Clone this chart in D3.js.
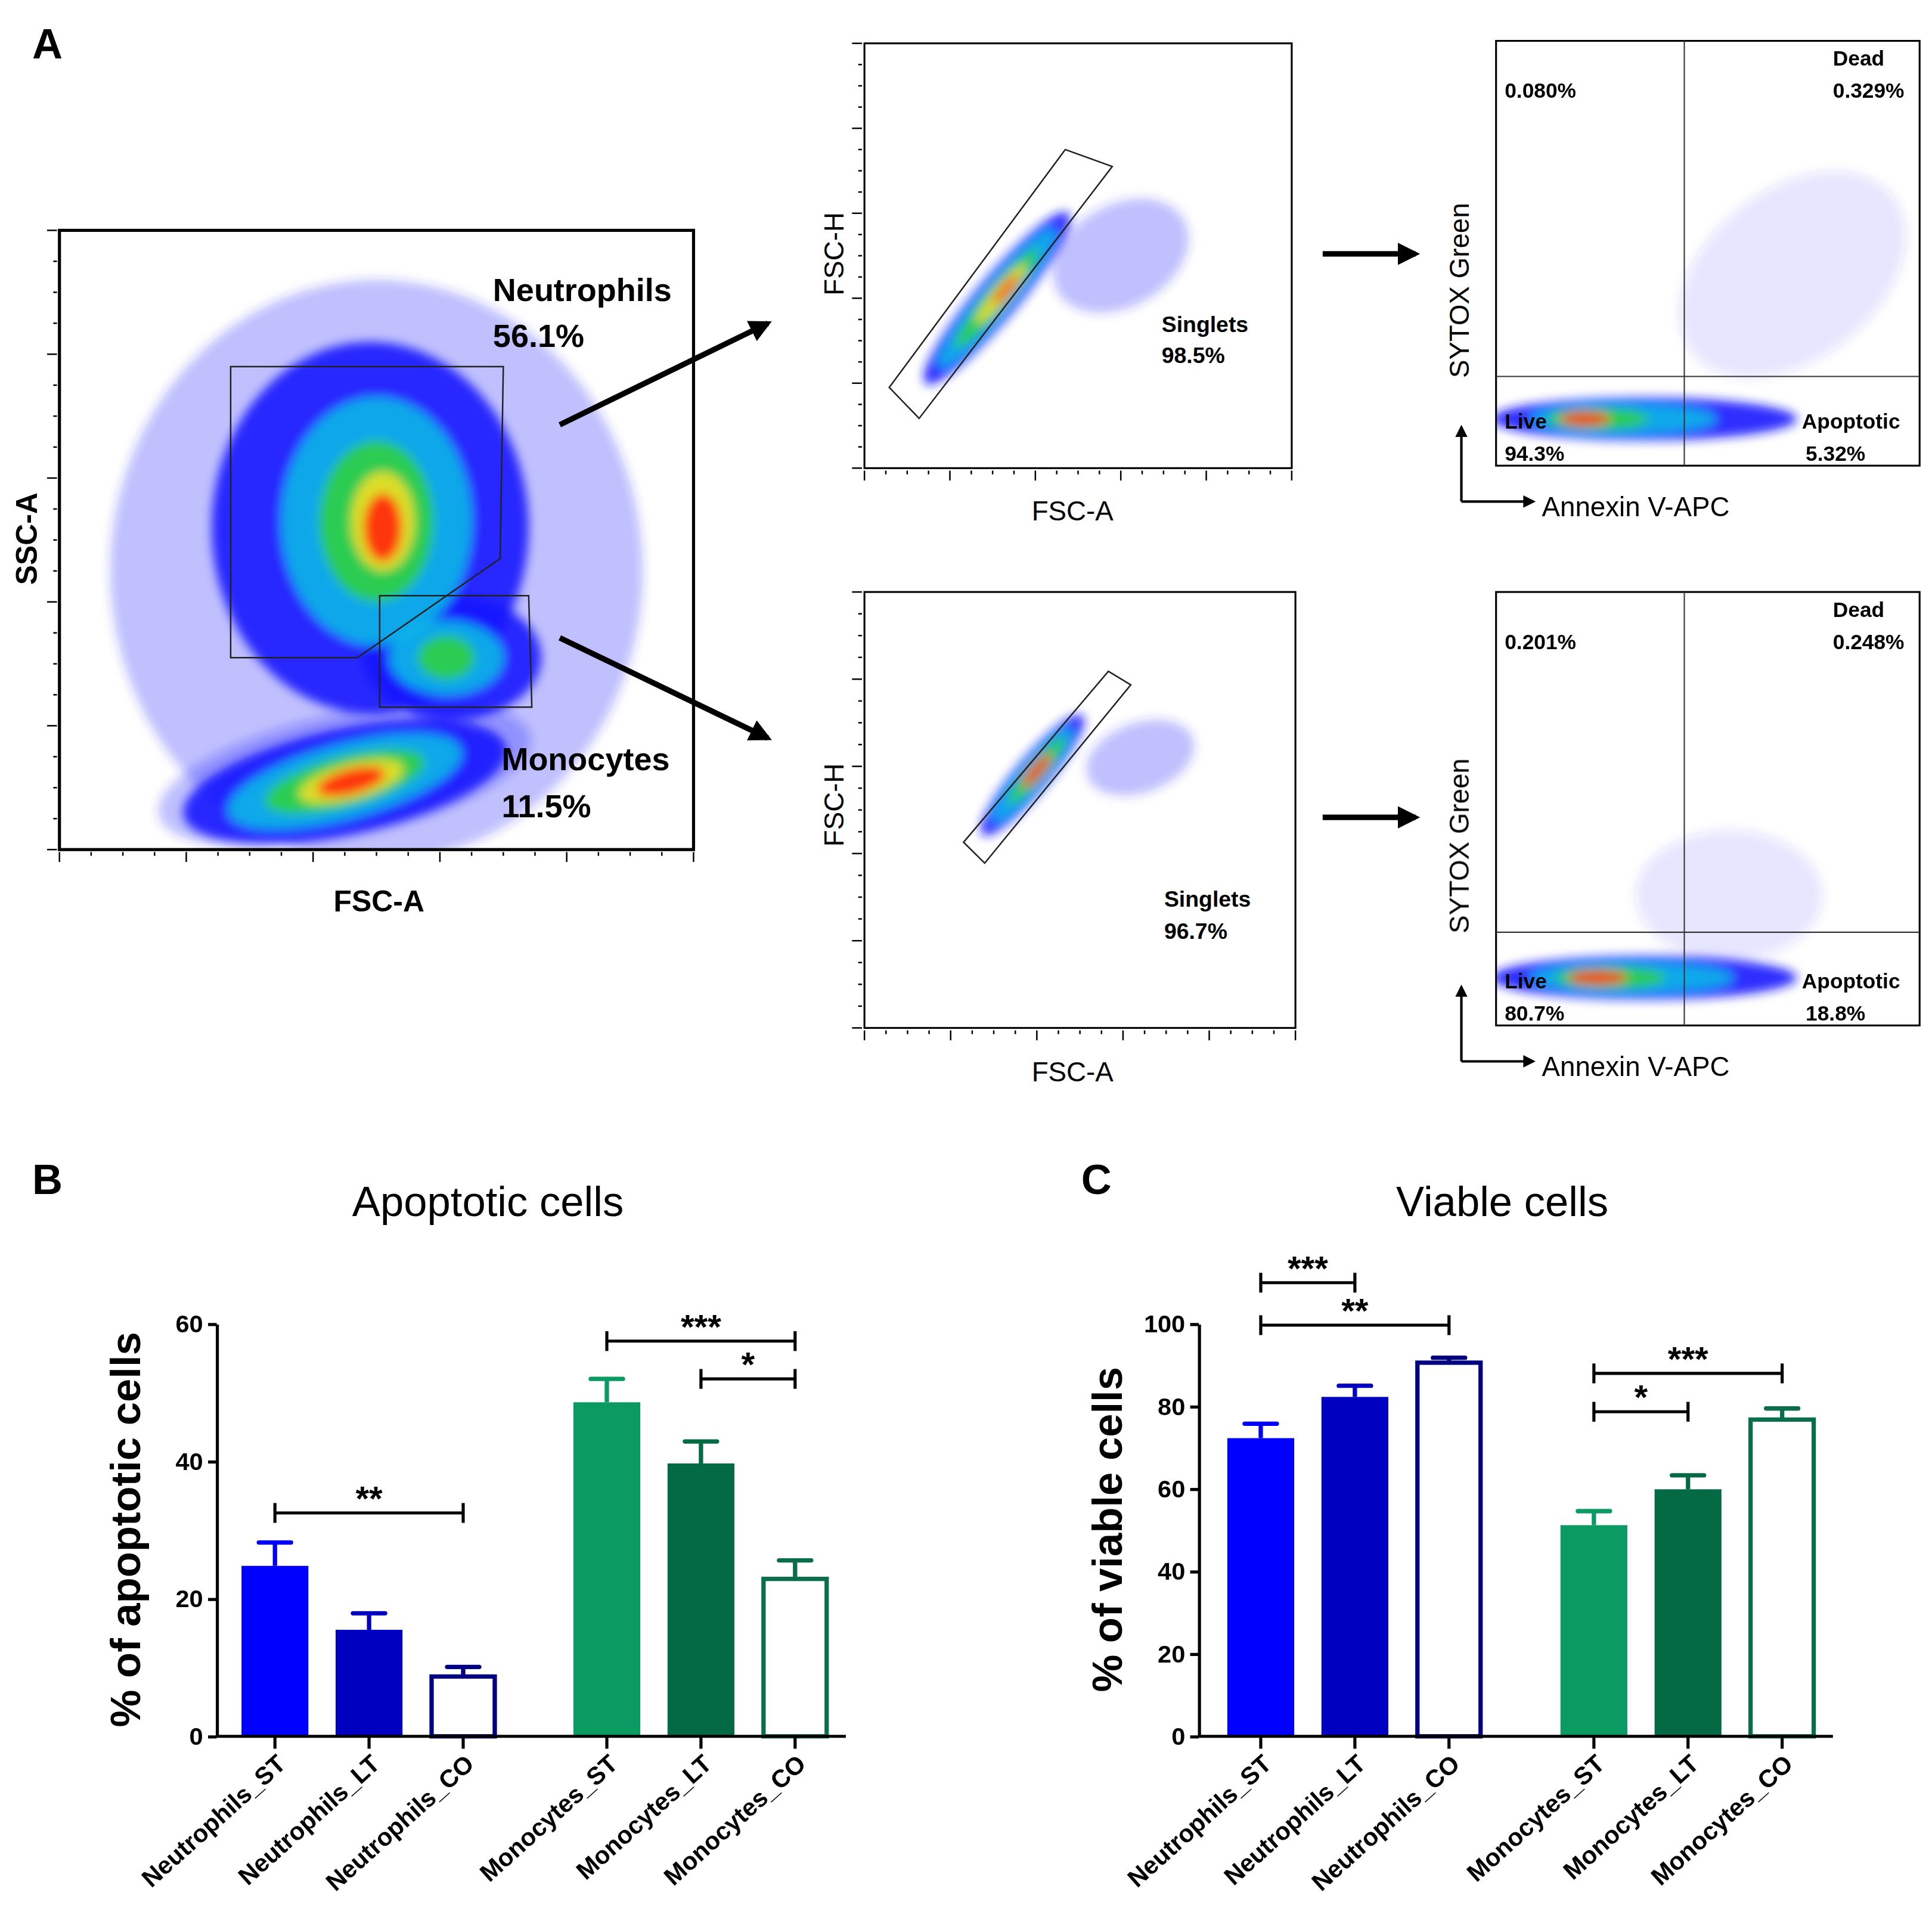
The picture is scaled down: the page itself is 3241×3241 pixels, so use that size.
<!DOCTYPE html>
<html>
<head>
<meta charset="utf-8">
<script src="https://cdn.jsdelivr.net/npm/d3@7"></script>
<style>
  body { margin: 0; background: #fff; }
  text { font-family: "Liberation Sans", Arial, sans-serif; }
</style>
</head>
<body>
<svg id="fig" width="3241" height="3241" viewBox="0 0 1560 1560"></svg>
<script>
// ---- bar chart data ----
var groups = ["Neutrophils_ST", "Neutrophils_LT", "Neutrophils_CO", "Monocytes_ST", "Monocytes_LT", "Monocytes_CO"];
var apoptoticMean = [24.8, 15.5, 8.7, 48.6, 39.7, 22.9];
var apoptoticTop = [28.2, 17.9, 10.1, 52.0, 42.9, 25.6];
var viableMean = [72.3, 82.3, 90.6, 51.2, 59.9, 76.8];
var viableTop = [75.8, 85.0, 91.8, 54.6, 63.3, 79.5];
var barFill = ["#0000ff", "#0000c0", "#ffffff", "#0a9a62", "#046a44", "#ffffff"];
var barStroke = ["#0000ff", "#0000c0", "#000080", "#0a9a62", "#046a44", "#0a6e4a"];
// [from index, to index, bracket value, label]
var apoptoticSig = [[0, 2, 32.5, "**"], [3, 5, 57.5, "***"], [4, 5, 52.0, "*"]];
var viableSig = [[0, 1, 110, "***"], [0, 2, 99.7, "**"], [3, 5, 88, "***"], [3, 4, 78.7, "*"]];

// ---- flow cytometry density clouds: [cx, cy, rx, ry, rotation deg, level] in plot fractions ----
var mainClouds = [
  [0.50, 0.45, 0.42, 0.47, 0, 6], [0.45, 0.12, 0.30, 0.10, -12, 6],
  [0.49, 0.52, 0.25, 0.30, 0, 0], [0.62, 0.31, 0.14, 0.10, 0, 0], [0.45, 0.11, 0.26, 0.085, -12, 0],
  [0.50, 0.53, 0.15, 0.20, 0, 1], [0.61, 0.31, 0.09, 0.06, 0, 1], [0.45, 0.11, 0.19, 0.06, -15, 1],
  [0.50, 0.53, 0.09, 0.13, 0, 2], [0.61, 0.31, 0.045, 0.035, 0, 2], [0.45, 0.11, 0.13, 0.04, -15, 2],
  [0.51, 0.53, 0.05, 0.08, 0, 3], [0.46, 0.11, 0.085, 0.028, -15, 3],
  [0.51, 0.52, 0.03, 0.055, 0, 4], [0.46, 0.11, 0.055, 0.02, -15, 4]
];
var singletTopClouds = [
  [0.60, 0.50, 0.17, 0.12, -30, 6], [0.31, 0.40, 0.26, 0.05, -50, 0],
  [0.31, 0.40, 0.21, 0.035, -50, 1], [0.31, 0.40, 0.15, 0.025, -50, 2],
  [0.32, 0.41, 0.09, 0.017, -50, 3], [0.33, 0.42, 0.045, 0.01, -50, 4]
];
var singletBottomClouds = [
  [0.64, 0.62, 0.13, 0.08, -20, 6], [0.39, 0.58, 0.18, 0.04, -50, 0],
  [0.39, 0.58, 0.14, 0.028, -50, 1], [0.40, 0.59, 0.10, 0.02, -50, 2],
  [0.40, 0.59, 0.05, 0.012, -50, 4]
];
var quadTopClouds = [
  [0.70, 0.45, 0.30, 0.20, -38, 5],
  [0.35, 0.11, 0.36, 0.05, 0, 0], [0.30, 0.11, 0.22, 0.035, 0, 1],
  [0.24, 0.11, 0.12, 0.025, 0, 2], [0.21, 0.11, 0.06, 0.015, 0, 4]
];
var quadBottomClouds = [
  [0.55, 0.30, 0.22, 0.15, 0, 5],
  [0.35, 0.11, 0.36, 0.05, 0, 0], [0.32, 0.11, 0.24, 0.035, 0, 1],
  [0.27, 0.11, 0.13, 0.025, 0, 2], [0.24, 0.11, 0.07, 0.015, 0, 4]
];
var levelColor = ["#1414ff", "#10b8e8", "#30d040", "#f0e020", "#ff2a10", "#3030ff", "#2a2aff"];
var levelOpacity = [0.9, 0.9, 0.9, 0.9, 0.95, 0.12, 0.3];

// gates, in plot fractions
var neutroGate = [[0.27, 0.78], [0.70, 0.78], [0.695, 0.47], [0.47, 0.31], [0.27, 0.31]];
var monoGate = [[0.505, 0.41], [0.74, 0.41], [0.745, 0.23], [0.505, 0.23]];
var singletTopGate = [[0.058, 0.19], [0.47, 0.75], [0.58, 0.71], [0.128, 0.117]];
var singletBottomGate = [[0.23, 0.426], [0.566, 0.818], [0.618, 0.787], [0.279, 0.378]];

var svg = d3.select("#fig");
var defs = svg.append("defs");
defs.append("filter").attr("id", "blur").attr("x", "-50%").attr("y", "-50%").attr("width", "200%").attr("height", "200%")
  .append("feGaussianBlur").attr("stdDeviation", 4);
defs.append("marker").attr("id", "arrow").attr("viewBox", "0 0 10 10").attr("refX", 8).attr("refY", 5)
  .attr("markerWidth", 4).attr("markerHeight", 4).attr("orient", "auto")
  .append("path").attr("d", "M0,0L10,5L0,10z").attr("fill", "#000");
defs.append("marker").attr("id", "arrowSmall").attr("viewBox", "0 0 10 10").attr("refX", 8).attr("refY", 5)
  .attr("markerWidth", 5).attr("markerHeight", 5).attr("orient", "auto")
  .append("path").attr("d", "M0,0L10,5L0,10z").attr("fill", "#000");

function panelLetter(x, y, t) {
  svg.append("text").attr("x", x).attr("y", y).attr("font-size", 34).attr("font-weight", "bold").text(t);
}

function flowPlot(box, clouds, opts) {
  var x = d3.scaleLinear().domain([0, 1]).range([box[0], box[1]]);
  var y = d3.scaleLinear().domain([0, 1]).range([box[3], box[2]]);
  var clipId = "clip" + Math.round(box[0]) + "_" + Math.round(box[2]);
  defs.append("clipPath").attr("id", clipId).append("rect")
    .attr("x", box[0]).attr("y", box[2]).attr("width", box[1] - box[0]).attr("height", box[3] - box[2]);
  var g = svg.append("g").attr("clip-path", "url(#" + clipId + ")").attr("filter", "url(#blur)");
  g.selectAll("ellipse").data(clouds).join("ellipse")
    .attr("cx", 0).attr("cy", 0)
    .attr("rx", d => x(d[2]) - x(0)).attr("ry", d => y(0) - y(d[3]))
    .attr("transform", d => "translate(" + x(d[0]) + "," + y(d[1]) + ") rotate(" + d[4] + ")")
    .attr("fill", d => levelColor[d[5]]).attr("opacity", d => levelOpacity[d[5]]);
  svg.append("rect").attr("x", box[0]).attr("y", box[2]).attr("width", box[1] - box[0]).attr("height", box[3] - box[2])
    .attr("fill", "none").attr("stroke", "#000").attr("stroke-width", opts.frame || 1.5);
  if (opts.ticks) {
    var major = opts.ticks;
    var tx = d3.range(0, major * 4 + 1).map(i => i / (major * 4));
    svg.append("g").selectAll("line").data(tx).join("line")
      .attr("x1", d => x(d)).attr("x2", d => x(d)).attr("y1", box[3] + 2)
      .attr("y2", (d, i) => box[3] + (i % 4 === 0 ? 10 : 5)).attr("stroke", "#000").attr("stroke-width", 1.2);
    svg.append("g").selectAll("line").data(tx).join("line")
      .attr("y1", d => y(d)).attr("y2", d => y(d)).attr("x1", box[0] - 2)
      .attr("x2", (d, i) => box[0] - (i % 4 === 0 ? 10 : 5)).attr("stroke", "#000").attr("stroke-width", 1.2);
  }
  var line = d3.line().x(d => x(d[0])).y(d => y(d[1]));
  (opts.gates || []).forEach(gt => {
    svg.append("path").attr("d", line(gt) + "Z").attr("fill", "none").attr("stroke", "#222").attr("stroke-width", 1.2);
  });
  if (opts.quad) {
    svg.append("line").attr("x1", x(opts.quad[0])).attr("x2", x(opts.quad[0])).attr("y1", box[2]).attr("y2", box[3])
      .attr("stroke", "#333").attr("stroke-width", 1);
    svg.append("line").attr("y1", y(opts.quad[1])).attr("y2", y(opts.quad[1])).attr("x1", box[0]).attr("x2", box[1])
      .attr("stroke", "#333").attr("stroke-width", 1);
  }
}

function label(x, y, t, size, weight, anchor) {
  return svg.append("text").attr("x", x).attr("y", y).attr("font-size", size)
    .attr("font-weight", weight || "normal").attr("text-anchor", anchor || "start").text(t);
}
function vlabel(x, y, t, size, weight) {
  return svg.append("text").attr("transform", "translate(" + x + "," + y + ") rotate(-90)")
    .attr("font-size", size).attr("font-weight", weight || "normal").attr("text-anchor", "middle").text(t);
}
function arrow(x1, y1, x2, y2, w, m) {
  svg.append("line").attr("x1", x1).attr("y1", y1).attr("x2", x2).attr("y2", y2)
    .attr("stroke", "#000").attr("stroke-width", w).attr("marker-end", "url(#" + m + ")");
}

// ---- Panel A ----
panelLetter(26, 47, "A");
flowPlot([48, 560, 186, 686], mainClouds, { ticks: 5, frame: 2.5, gates: [neutroGate, monoGate] });
label(398, 243, "Neutrophils", 26, "bold");
label(398, 280, "56.1%", 26, "bold");
label(405, 622, "Monocytes", 26, "bold");
label(405, 660, "11.5%", 26, "bold");
label(306, 736, "FSC-A", 24, "bold", "middle");
vlabel(30, 435, "SSC-A", 24, "bold");
arrow(452, 343, 620, 261, 4.5, "arrow");
arrow(452, 515, 620, 596, 4.5, "arrow");

flowPlot([698, 1043, 35, 378], singletTopClouds, { ticks: 5, gates: [singletTopGate] });
label(938, 268, "Singlets", 18, "bold");
label(938, 293, "98.5%", 18, "bold");
label(866, 420, "FSC-A", 22, "normal", "middle");
vlabel(681, 205, "FSC-H", 22);
flowPlot([698, 1046, 478, 830], singletBottomClouds, { ticks: 5, gates: [singletBottomGate] });
label(940, 732, "Singlets", 18, "bold");
label(940, 758, "96.7%", 18, "bold");
label(866, 873, "FSC-A", 22, "normal", "middle");
vlabel(681, 650, "FSC-H", 22);

arrow(1068, 205, 1143, 205, 4.5, "arrow");
arrow(1068, 660, 1143, 660, 4.5, "arrow");

function quadPanel(box, clouds, vals) {
  flowPlot(box, clouds, { quad: [(1360 - box[0]) / (box[1] - box[0]), vals.h] });
  label(box[0] + 7, box[2] + 46, vals.ul, 17, "bold");
  label(box[0] + 272, box[2] + 20, "Dead", 17, "bold");
  label(box[0] + 272, box[2] + 46, vals.ur, 17, "bold");
  label(box[0] + 7, box[3] - 30, "Live", 17, "bold");
  label(box[0] + 7, box[3] - 4, vals.ll, 17, "bold");
  label(box[0] + 247, box[3] - 30, "Apoptotic", 17, "bold");
  label(box[0] + 250, box[3] - 4, vals.lr, 17, "bold");
  vlabel(box[0] - 22, (box[2] + box[3]) / 2 + 30, "SYTOX Green", 22);
  var cy = box[3] + 29;
  arrow(1180, cy, 1180, cy - 60, 2, "arrowSmall");
  arrow(1180, cy, 1238, cy, 2, "arrowSmall");
  label(1245, cy + 12, "Annexin V-APC", 22);
}
quadPanel([1208, 1550, 33, 376], quadTopClouds, { h: 0.21, ul: "0.080%", ur: "0.329%", ll: "94.3%", lr: "5.32%" });
quadPanel([1208, 1550, 478, 828], quadBottomClouds, { h: 0.215, ul: "0.201%", ur: "0.248%", ll: "80.7%", lr: "18.8%" });

// ---- Panels B and C ----
function barChart(o) {
  var pos = i => o.centers[i];
  var y = d3.scaleLinear().domain([0, o.max]).range([1402, 1069]);
  var bw = 54;
  svg.append("g").selectAll("rect").data(o.mean).join("rect")
    .attr("x", (d, i) => pos(i) - bw / 2 + (barFill[i] === "#ffffff" ? 1.5 : 0))
    .attr("width", (d, i) => bw - (barFill[i] === "#ffffff" ? 3 : 0))
    .attr("y", d => y(d)).attr("height", d => y(0) - y(d))
    .attr("fill", (d, i) => barFill[i]).attr("stroke", (d, i) => barStroke[i])
    .attr("stroke-width", (d, i) => barFill[i] === "#ffffff" ? 3.5 : 0);
  var eg = svg.append("g");
  o.top.forEach((t, i) => {
    eg.append("line").attr("x1", pos(i)).attr("x2", pos(i)).attr("y1", y(o.mean[i])).attr("y2", y(t))
      .attr("stroke", barStroke[i]).attr("stroke-width", 3.5);
    eg.append("line").attr("x1", pos(i) - 13).attr("x2", pos(i) + 13).attr("y1", y(t)).attr("y2", y(t))
      .attr("stroke", barStroke[i]).attr("stroke-width", 3.5).attr("stroke-linecap", "round");
  });
  var yAxis = d3.axisLeft(y).tickValues(d3.range(0, o.max + 1, 20)).tickSize(7).tickSizeOuter(0);
  var ga = svg.append("g").attr("transform", "translate(" + o.x0 + ",0)").call(yAxis);
  ga.select(".domain").attr("stroke-width", 2.5);
  ga.selectAll(".tick line").attr("stroke-width", 2.5);
  ga.selectAll("text").attr("font-size", 20).attr("font-weight", "bold")
    .attr("font-family", "Liberation Sans, Arial, sans-serif").attr("dx", -1);
  svg.append("line").attr("x1", o.x0).attr("x2", o.x1).attr("y1", y(0)).attr("y2", y(0))
    .attr("stroke", "#000").attr("stroke-width", 2.5);
  groups.forEach((gname, i) => {
    svg.append("line").attr("x1", pos(i)).attr("x2", pos(i)).attr("y1", y(0)).attr("y2", y(0) + 10)
      .attr("stroke", "#000").attr("stroke-width", 2.5);
    svg.append("text").attr("transform", "translate(" + (pos(i) + 10) + "," + (y(0) + 24) + ") rotate(-42)")
      .attr("text-anchor", "end").attr("font-size", 20).attr("font-weight", "bold").text(gname);
  });
  o.sig.forEach(s => {
    var a = pos(s[0]), b = pos(s[1]), yy = y(s[2]);
    svg.append("line").attr("x1", a).attr("x2", b).attr("y1", yy).attr("y2", yy).attr("stroke", "#000").attr("stroke-width", 2.5);
    [a, b].forEach(p => svg.append("line").attr("x1", p).attr("x2", p).attr("y1", yy - 8).attr("y2", yy + 8)
      .attr("stroke", "#000").attr("stroke-width", 2.5));
    label((a + b) / 2, yy - 2, s[3], 28, "bold", "middle");
  });
  label(o.titleX, 982, o.title, 34, "normal", "middle");
  vlabel(o.x0 - 62, 1235, o.ylab, 34, "bold");
}

panelLetter(26, 964, "B");
barChart({ x0: 175, x1: 683, max: 60, centers: [222, 298, 374, 490, 566, 642], mean: apoptoticMean, top: apoptoticTop,
  sig: apoptoticSig, title: "Apoptotic cells", titleX: 394, ylab: "% of apoptotic cells" });
panelLetter(873, 964, "C");
barChart({ x0: 968, x1: 1480, max: 100, centers: [1018, 1094, 1170, 1287, 1363, 1439], mean: viableMean, top: viableTop,
  sig: viableSig, title: "Viable cells", titleX: 1213, ylab: "% of viable cells" });
</script>
</body>
</html>
